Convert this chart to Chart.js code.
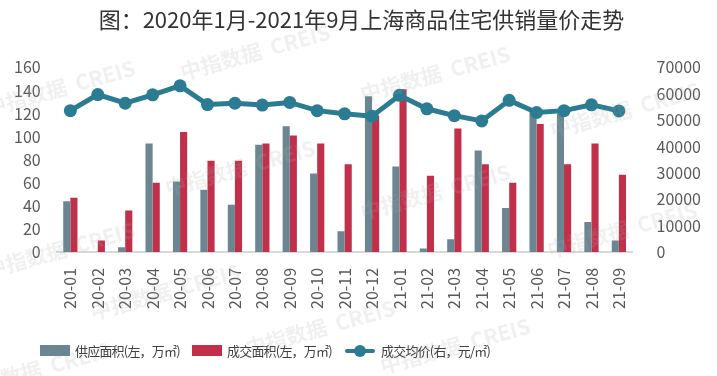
<!DOCTYPE html>
<html>
<head>
<meta charset="utf-8">
<script src="https://cdn.jsdelivr.net/npm/chart.js@4"></script>
<style>
  body { margin: 0; background: #fff; }
  #wrap { position: relative; width: 717px; height: 376px; }
  .item { position: absolute; top: 341px; display: flex; align-items: center; white-space: nowrap;
          font: 13px "Noto Sans CJK SC", sans-serif; color: #404040; letter-spacing: -0.8px; }
  .sw { display: inline-block; width: 30px; height: 11px; margin-right: 5px; }
  .ln { position: relative; width: 30px; height: 4px; background: #2b7b93; margin-right: 6px; border-radius: 2px; }
  .ln:after { content: ""; position: absolute; left: 9px; top: -4px; width: 12px; height: 12px; border-radius: 50%; background: #2b7b93; }
</style>
</head>
<body>
<div id="wrap">
  <canvas id="chart" width="717" height="376"></canvas>
  <span class="item" style="left:40px"><span class="sw" style="background:#6b8691"></span>供应面积(左，万㎡)</span>
  <span class="item" style="left:192px"><span class="sw" style="background:#c0304a"></span>成交面积(左，万㎡)</span>
  <span class="item" style="left:345px"><span class="ln"></span>成交均价(右，元/㎡)</span>
</div>
<script>
const months = ['20-01', '20-02', '20-03', '20-04', '20-05', '20-06', '20-07', '20-08', '20-09', '20-10', '20-11', '20-12',
    '21-01', '21-02', '21-03', '21-04', '21-05', '21-06', '21-07', '21-08', '21-09'];
const supplyArea = [44, 0, 4, 94, 61, 54, 41, 93, 109, 68, 18, 135, 74, 3, 11, 88, 38, 122, 120, 26, 10];
const dealArea = [47, 10, 36, 60, 104, 79, 79, 94, 101, 94, 76, 118, 141, 66, 107, 76, 60, 111, 76, 94, 67];
const avgPrice = [53600, 59700, 56400, 59600, 63000, 55900, 56400, 55700, 56700, 53600, 52400, 51500,
    59400, 54300, 51700, 49700, 57500, 52900, 53600, 55800, 53500];
const leftTicks = [0, 160, 20];
const rightTicks = [0, 70000, 10000];

const tickColor = '#595959';
const font = '"Noto Sans CJK SC", "Noto Sans", sans-serif';

// faint "中指数据 CREIS" marks like the source image
const watermark = {
    id: 'watermark',
    afterDatasetsDraw(chart) {
        let ctx = chart.ctx;
        let spots = [[60, 88], [255, 52], [240, 168], [435, 74], [435, 192], [625, 110], [622, 230], [60, 250], [165, 292], [320, 328], [455, 346], [35, 370]];
        ctx.save();
        ctx.font = 'bold 21px ' + font;
        ctx.fillStyle = 'rgba(170, 170, 170, 0.18)';
        ctx.textAlign = 'center';
        ctx.textBaseline = 'middle';
        spots.forEach(p => {
            ctx.save();
            ctx.translate(p[0], p[1]);
            ctx.rotate(-0.27);
            ctx.fillText('中指数据  CREIS', 0, 0);
            ctx.restore();
        });
        ctx.restore();
    }
};

new Chart(document.getElementById('chart'), {
    data: {
        labels: months,
        datasets: [
            {
                type: 'line',
                label: '成交均价(右，元/㎡)',
                data: avgPrice,
                yAxisID: 'y1',
                borderColor: '#2b7b93',
                backgroundColor: '#2b7b93',
                borderWidth: 5,
                pointRadius: 6.5,
                pointBorderWidth: 0,
                tension: 0,
                order: 0
            },
            {
                type: 'bar',
                label: '供应面积(左，万㎡)',
                data: supplyArea,
                yAxisID: 'y',
                backgroundColor: '#6b8691',
                barPercentage: 1,
                categoryPercentage: 0.52,
                order: 1
            },
            {
                type: 'bar',
                label: '成交面积(左，万㎡)',
                data: dealArea,
                yAxisID: 'y',
                backgroundColor: '#c0304a',
                barPercentage: 1,
                categoryPercentage: 0.52,
                order: 2
            }
        ]
    },
    options: {
        responsive: false,
        animation: false,
        layout: {
            padding: { left: 6, right: 0, top: 0, bottom: 59 }
        },
        plugins: {
            legend: { display: false },
            tooltip: { enabled: false },
            title: {
                display: true,
                text: '图：2020年1月-2021年9月上海商品住宅供销量价走势',
                color: '#333',
                font: { family: font, size: 22, weight: 'normal' },
                padding: { top: 6, bottom: 35 }
            }
        },
        scales: {
            x: {
                grid: { display: false },
                border: { color: '#d9d9d9', width: 2 },
                ticks: {
                    color: tickColor,
                    minRotation: 90,
                    maxRotation: 90,
                    padding: 8,
                    font: { family: font, size: 16 }
                }
            },
            y: {
                position: 'left',
                min: leftTicks[0],
                max: leftTicks[1],
                grid: { display: false },
                border: { display: false },
                ticks: {
                    stepSize: leftTicks[2],
                    autoSkip: false,
                    color: tickColor,
                    padding: 8,
                    font: { family: font, size: 16, lineHeight: 1 }
                }
            },
            y1: {
                position: 'right',
                min: rightTicks[0],
                max: rightTicks[1],
                grid: { display: false },
                border: { display: false },
                ticks: {
                    stepSize: rightTicks[2],
                    autoSkip: false,
                    color: tickColor,
                    padding: 16,
                    font: { family: font, size: 16, lineHeight: 1 },
                    callback: v => String(v)
                }
            }
        }
    },
    plugins: [watermark]
});
</script>
</body>
</html>
